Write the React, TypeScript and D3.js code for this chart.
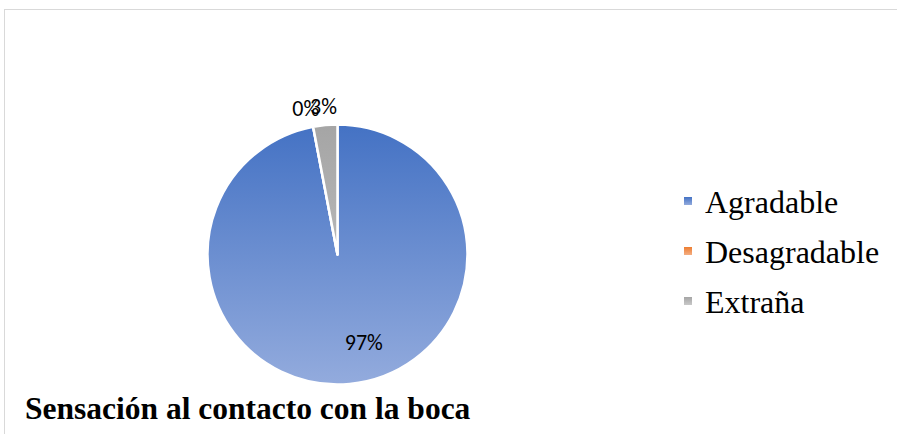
import React, { useEffect, useRef } from 'react';
import * as d3 from 'd3';

const categories = ['Agradable', 'Desagradable', 'Extraña'];
const values = [97, 0, 3];
const labels = ['97%', '0%', '3%'];
const colorsTop = ['#4472C4', '#ED7D31', '#A5A5A5'];
const colorsBottom = ['#93ABDD', '#F4AE83', '#C9C9C9'];
const title = 'Sensación al contacto con la boca';

export default function App() {
  const svgRef = useRef<SVGSVGElement>(null);

  useEffect(() => {
    if (!svgRef.current) return;
    const svg = d3.select(svgRef.current);
    svg.selectAll('*').remove();

    const W = 897;
    const H = 434;
    const cx = 337.5;
    const cy = 254.5;
    const R = 130;

    // 渐变
    const defs = svg.append('defs');
    categories.forEach((_, i) => {
      const g = defs.append('linearGradient')
        .attr('id', `grad${i}`)
        .attr('gradientUnits', 'userSpaceOnUse')
        .attr('x1', 0).attr('y1', -R)
        .attr('x2', 0).attr('y2', R);
      g.append('stop').attr('offset', '0%').attr('stop-color', colorsTop[i]);
      g.append('stop').attr('offset', '100%').attr('stop-color', colorsBottom[i]);
      const lg = defs.append('linearGradient')
        .attr('id', `lgrad${i}`)
        .attr('x1', 0).attr('y1', 0).attr('x2', 0).attr('y2', 1);
      lg.append('stop').attr('offset', '0%').attr('stop-color', colorsTop[i]);
      lg.append('stop').attr('offset', '100%').attr('stop-color', colorsBottom[i]);
    });

    // 边框
    svg.append('rect')
      .attr('x', 4.5).attr('y', 9.5)
      .attr('width', W).attr('height', H)
      .attr('fill', 'white')
      .attr('stroke', '#D9D9D9')
      .attr('stroke-width', 1);

    const pie = d3.pie<number>().sort(null).value(d => d);
    const arcs = pie(values);
    const arc = d3.arc<d3.PieArcDatum<number>>().innerRadius(0).outerRadius(R);

    const g = svg.append('g').attr('transform', `translate(${cx},${cy})`);

    g.selectAll('path.slice')
      .data(arcs)
      .enter()
      .append('path')
      .attr('class', 'slice')
      .attr('d', arc)
      .attr('fill', (_, i) => `url(#grad${i})`)
      .attr('stroke', 'white')
      .attr('stroke-width', 2.5)
      .attr('stroke-linejoin', 'round');

    // 标签
    const inner = d3.arc<d3.PieArcDatum<number>>().innerRadius(R * 0.68).outerRadius(R * 0.68);
    const outer = d3.arc<d3.PieArcDatum<number>>().innerRadius(R * 1.14).outerRadius(R * 1.14);
    const labelOffsets = [[18, 0], [-4, 0], [0, 0]];
    arcs.forEach((a, i) => {
      const [x, y] = a.value > 50 ? inner.centroid(a) : outer.centroid(a);
      g.append('text')
        .attr('x', x + labelOffsets[i][0])
        .attr('y', y + labelOffsets[i][1])
        .attr('text-anchor', 'middle')
        .attr('dominant-baseline', 'central')
        .attr('font-family', 'Carlito, "Liberation Sans", Arial, sans-serif')
        .attr('font-size', 22)
        .attr('fill', '#000')
        .text(labels[i]);
    });

    // 图例
    const legendY = d3.scalePoint<string>()
      .domain(categories)
      .range([201, 301]);
    const legend = svg.append('g');
    categories.forEach((c, i) => {
      const y = legendY(c) ?? 0;
      legend.append('rect')
        .attr('x', 684).attr('y', y - 4)
        .attr('width', 8).attr('height', 8)
        .attr('fill', `url(#lgrad${i})`);
      legend.append('text')
        .attr('x', 705).attr('y', y + 12)
        .attr('font-family', '"Liberation Serif", "Times New Roman", serif')
        .attr('font-size', 32)
        .attr('fill', '#000')
        .text(c);
    });

    // 标题
    svg.append('text')
      .attr('x', 25).attr('y', 419)
      .attr('font-family', '"Liberation Serif", "Times New Roman", serif')
      .attr('font-weight', 'bold')
      .attr('font-size', 31.5)
      .attr('fill', '#000')
      .text(title);
  }, []);

  return (
    <svg
      ref={svgRef}
      width={897}
      height={434}
      style={{ position: 'absolute', left: 0, top: 0, display: 'block' }}
    />
  );
}
